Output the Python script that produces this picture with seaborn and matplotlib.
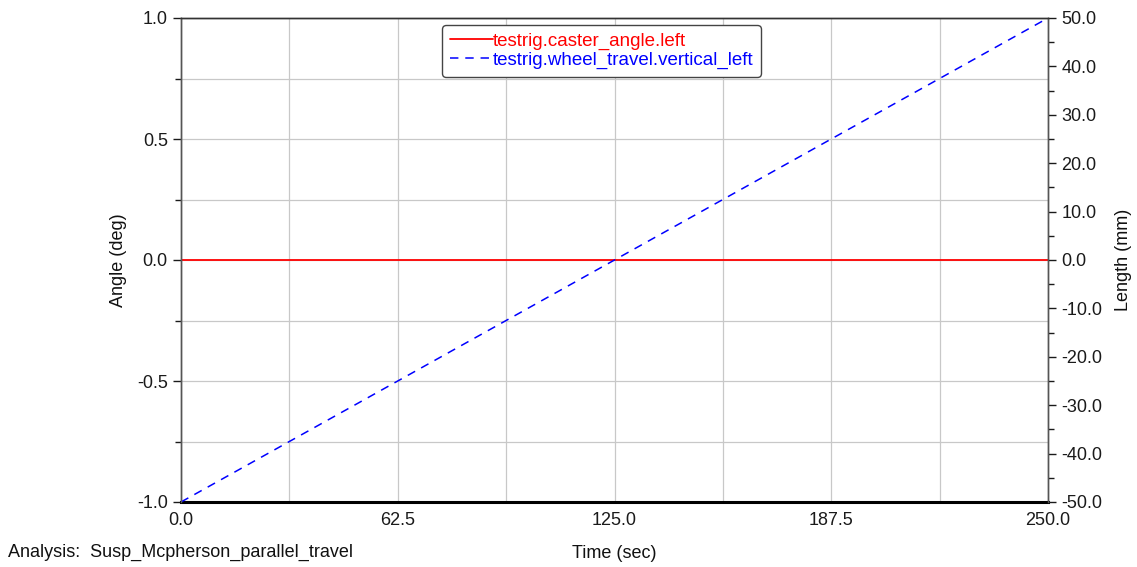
import matplotlib
matplotlib.use("Agg")
import matplotlib.pyplot as plt
import seaborn as sns
import numpy as np
import pandas as pd
from matplotlib.ticker import MultipleLocator, FormatStrFormatter

time_sec = [0.0, 62.5, 125.0, 187.5, 250.0]
caster_angle_left = [0.0, 0.0, 0.0, 0.0, 0.0]
wheel_travel_vertical_left = [-50.0, -25.0, 0.0, 25.0, 50.0]

sns.set_style("white")
plt.rcParams['font.family'] = ['Liberation Sans', 'DejaVu Sans']

df = pd.DataFrame({"time": time_sec, "caster": caster_angle_left, "travel": wheel_travel_vertical_left})

fig = plt.figure(figsize=(11.37, 5.67), dpi=100)
ax = fig.add_axes([181/1137, 1-502/567, (1048-181)/1137, (502-18)/567])
ax2 = ax.twinx()

sns.lineplot(data=df, x="time", y="caster", ax=ax, color="#ff0000", lw=1.3,
             label="testrig.caster_angle.left", legend=False)
sns.lineplot(data=df, x="time", y="travel", ax=ax2, color="#0000ff", lw=1.1,
             linestyle=(0, (5.5, 4.5)), label="testrig.wheel_travel.vertical_left", legend=False)

ax.set_xlim(0, 250)
ax.set_ylim(-1, 1)
ax2.set_ylim(-50, 50)

ax.xaxis.set_major_locator(MultipleLocator(62.5))
ax.xaxis.set_minor_locator(MultipleLocator(31.25))
ax.yaxis.set_major_locator(MultipleLocator(0.5))
ax.yaxis.set_minor_locator(MultipleLocator(0.25))
ax.xaxis.set_major_formatter(FormatStrFormatter("%.1f"))
ax.yaxis.set_major_formatter(FormatStrFormatter("%.1f"))
ax2.yaxis.set_major_locator(MultipleLocator(10))
ax2.yaxis.set_minor_locator(MultipleLocator(5))
ax2.yaxis.set_major_formatter(FormatStrFormatter("%.1f"))

ax.grid(True, which="both", color="#c8c8c8", lw=0.9)
ax.set_axisbelow(True)

fs = 13
ax.tick_params(axis="both", which="both", direction="out", labelsize=fs, colors="#1a1a1a")
ax.tick_params(axis="both", which="major", length=6, width=1)
ax.tick_params(axis="both", which="minor", length=4, width=1)
ax.tick_params(axis="x", which="both", length=4, width=2, color="black")
ax2.tick_params(axis="y", which="both", direction="out", labelsize=fs, colors="#1a1a1a")
ax2.tick_params(axis="y", which="major", length=6, width=1)
ax2.tick_params(axis="y", which="minor", length=4, width=1)

for a in (ax, ax2):
    for s in a.spines.values():
        s.set_color("#555555")
        s.set_linewidth(1)
ax.spines["bottom"].set_color("black")
ax.spines["bottom"].set_linewidth(2.2)
ax2.spines["bottom"].set_visible(False)
ax.spines["top"].set_color("#333333")
ax2.spines["top"].set_color("#333333")

ax.set_xlabel("Time (sec)", fontsize=fs, labelpad=11, color="#111111")
ax.set_ylabel("Angle (deg)", fontsize=fs, labelpad=7, color="#111111")
ax2.set_ylabel("Length (mm)", fontsize=fs, labelpad=9, color="#111111")

fig.text(8/1137, 1-552/567, "Analysis:  Susp_Mcpherson_parallel_travel", fontsize=fs,
         ha="left", va="center", color="#111111")

h1, l1 = ax.get_legend_handles_labels()
h2, l2 = ax2.get_legend_handles_labels()
leg = ax2.legend(h1 + h2, l1 + l2, loc="upper center", bbox_to_anchor=((601.5-181)/867, 1-7/484),
                 borderaxespad=0, fontsize=13.5, handlelength=2.3, handletextpad=0.0,
                 labelcolor="linecolor", frameon=True, fancybox=True, framealpha=1,
                 edgecolor="#444444", borderpad=0.4, labelspacing=0.1)
leg.get_frame().set_linewidth(1)

fig.savefig("out.png", dpi=100)
